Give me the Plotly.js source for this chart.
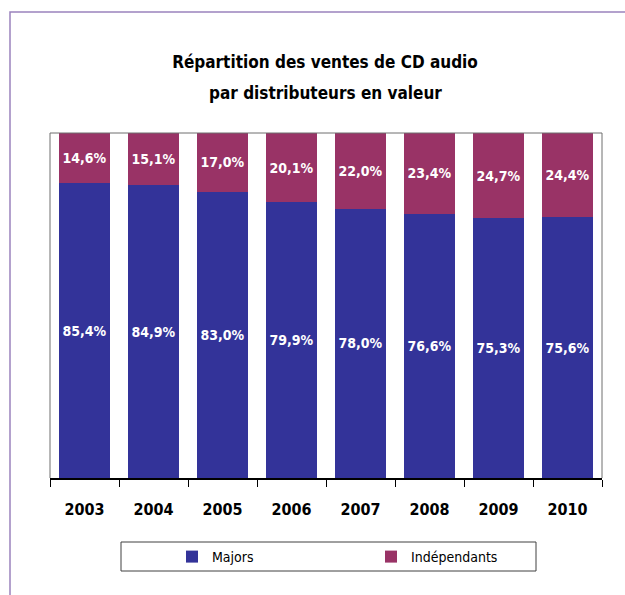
<!DOCTYPE html>
<html><head><meta charset="utf-8">
<script src="https://cdn.plot.ly/plotly-3.0.1.min.js"></script>
<style>html,body{margin:0;padding:0;background:#fff;} #chart{width:625px;height:595px;}</style>
</head><body><div id="chart"></div>
<script>
const years = ['2003', '2004', '2005', '2006', '2007', '2008', '2009', '2010'];
const majors = [85.4, 84.9, 83.0, 79.9, 78.0, 76.6, 75.3, 75.6];
const independants = [14.6, 15.1, 17.0, 20.1, 22.0, 23.4, 24.7, 24.4];
const seriesNames = ['Majors', 'Indépendants'];
const titleLines = ['Répartition des ventes de CD audio', 'par distributeurs en valeur'];

const fmt = v => v.toFixed(1).replace('.', ',') + '%';
const FONT = '"DejaVu Sans Condensed", "Liberation Sans Narrow", sans-serif';

// pixel -> paper helpers (plot area: x 50..602, y 133..478)
const L = 50, R = 602, T = 133, B = 478;
const px = x => (x - L) / (R - L);
const py = y => (B - y) / (B - T);

const common = {
  type: 'bar', x: years, textposition: 'inside', insidetextanchor: 'middle', textangle: 0,
  constraintext: 'none',
  textfont: {family: FONT, size: 14, color: '#ffffff', weight: 'bold'},
  hoverinfo: 'skip'
};
const data = [
  Object.assign({}, common, {name: seriesNames[0], y: majors, text: majors.map(fmt), marker: {color: '#333399', line: {width: 0}}}),
  Object.assign({}, common, {name: seriesNames[1], y: independants, text: independants.map(fmt), marker: {color: '#993366', line: {width: 0}}})
];

const layout = {
  width: 625, height: 595,
  margin: {l: L, r: 625 - R, t: T, b: 595 - B, pad: 0},
  paper_bgcolor: '#ffffff', plot_bgcolor: '#ffffff',
  barmode: 'stack', bargap: 0.275,
  font: {family: FONT, color: '#000000'},
  title: {text: titleLines[0], font: {family: FONT, size: 17, weight: 'bold', color: '#000'},
          x: 325 / 625, xanchor: 'center', xref: 'container', y: 1 - 62 / 595, yanchor: 'middle', yref: 'container'},
  annotations: [
    {text: titleLines[1], xref: 'paper', yref: 'paper', x: px(325), y: py(93), xanchor: 'center', yanchor: 'middle',
     showarrow: false, font: {family: FONT, size: 17, weight: 'bold', color: '#000'}}
  ],
  xaxis: {type: 'category', showline: true, linecolor: '#000', linewidth: 1.5, ticks: 'outside', tickson: 'boundaries',
          ticklen: 7, tickcolor: '#000', tickwidth: 1, showgrid: false, zeroline: false, ticklabelstandoff: 16,
          tickfont: {family: FONT, size: 16, weight: 'bold', color: '#000'}, fixedrange: true},
  yaxis: {range: [0, 100], visible: false, showgrid: false, zeroline: false, fixedrange: true},
  showlegend: true,
  legend: {orientation: 'h', x: px(172), xanchor: 'left', y: py(541), yanchor: 'top',
           bgcolor: 'rgba(0,0,0,0)', borderwidth: 0, entrywidth: 154, entrywidthmode: 'pixels',
           font: {family: FONT, size: 14, color: '#000'}, traceorder: 'normal'},
  shapes: [
    {type: 'path', xref: 'paper', yref: 'paper',
     path: `M ${px(10)},${py(600)} L ${px(10)},${py(12)} L ${px(630)},${py(12)}`,
     line: {color: '#9b82bd', width: 1.5}, layer: 'above'},
    {type: 'path', xref: 'paper', yref: 'paper',
     path: `M 0,0 L 0,1 L 1,1 L 1,0`, line: {color: '#6e6e6e', width: 1}, layer: 'above'},
    {type: 'rect', xref: 'paper', yref: 'paper', x0: px(121), x1: px(536), y0: py(571), y1: py(542),
     line: {color: '#404040', width: 1}, fillcolor: 'rgba(0,0,0,0)', layer: 'above'}
  ]
};

Plotly.newPlot('chart', data, layout, {staticPlot: true, displayModeBar: false});
</script></body></html>
